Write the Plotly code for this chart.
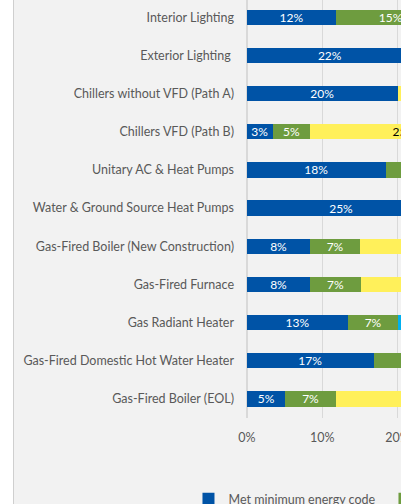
import plotly.graph_objects as go

# measure names, top to bottom
categories = [
    "Interior Lighting",
    "Exterior Lighting\u00a0",
    "Chillers without VFD (Path A)",
    "Chillers VFD (Path B)",
    "Unitary AC & Heat Pumps",
    "Water & Ground Source Heat Pumps",
    "Gas-Fired Boiler (New Construction)",
    "Gas-Fired Furnace",
    "Gas Radiant Heater",
    "Gas-Fired Domestic Hot Water Heater",
    "Gas-Fired Boiler (EOL)",
]

series_names = [
    "Met minimum energy code",
    "Exceeded code by 1-10%",
    "Exceeded code by 11-20%",
    "Exceeded code by more than 20%",
]

# share of projects (%) per group
met_code = [11.8, 22.0, 20.0, 3.4, 18.4, 25.0, 8.4, 8.4, 13.4, 16.8, 5.1]
exceed_low = [14.6, 0.0, 0.0, 5.0, 16.0, 10.0, 6.6, 6.7, 6.7, 15.0, 6.7]
exceed_mid = [40.0, 45.0, 50.0, 25.0, 33.0, 35.0, 45.0, 50.0, 0.0, 40.0, 48.0]
exceed_high = [33.6, 33.0, 30.0, 66.6, 32.6, 30.0, 40.0, 35.0, 79.9, 28.2, 40.2]

x_ticks = [0, 10, 20, 30, 40, 50, 60, 70, 80, 90, 100]

colors = ["#0053a6", "#6e9c3f", "#fff05a", "#00b0f0"]
text_colors = ["white", "white", "black", "white"]

W, H = 401, 504
L, B = 247, 86
PX_PER_PCT = 7.53
FONT = "Lato"

fig = go.Figure()
for name, vals, col, tcol in zip(series_names, [met_code, exceed_low, exceed_mid, exceed_high], colors, text_colors):
    fig.add_trace(go.Bar(
        y=categories, x=vals, name=name, orientation="h",
        marker=dict(color=col, line=dict(width=0)),
        text=[f"{round(v)}%" if v else "" for v in vals],
        textposition="inside", insidetextanchor="middle", constraintext="none",
        textfont=dict(family=FONT, size=12, color=tcol),
    ))

# white strip and border at the left edge of the chart box
fig.add_shape(type="rect", xref="paper", yref="paper", xsizemode="pixel", xanchor=0,
              x0=-L, x1=-L + 13, y0=-1, y1=2, fillcolor="white", line_width=0, layer="below")
fig.add_shape(type="line", xref="paper", yref="paper", xsizemode="pixel", xanchor=0,
              x0=-L + 13.5, x1=-L + 13.5, y0=-1, y1=2, line=dict(color="#cfcfcf", width=1), layer="below")

fig.update_layout(
    width=W, height=H,
    margin=dict(l=L, r=0, t=0, b=B, autoexpand=False),
    barmode="stack", bargap=0.6,
    paper_bgcolor="#f2f2f2", plot_bgcolor="#f2f2f2",
    font=dict(family=FONT, size=12.5, color="#595959"),
    legend=dict(orientation="h", x=-0.38, xanchor="left", y=-0.158, yanchor="top",
                entrywidth=151, font=dict(size=12.5, color="#595959"), traceorder="normal"),
)
fig.update_xaxes(range=[0, (W - L) / PX_PER_PCT], tickvals=x_ticks, ticktext=[f"{t}%" for t in x_ticks],
                 showgrid=True, gridcolor="#d9d9d9", zeroline=True, zerolinecolor="#d9d9d9",
                 showline=False, ticks="", ticklabelstandoff=10, ticklabeloverflow="allow")
fig.update_yaxes(range=[10.5, -0.45], showgrid=False, ticks="", showline=False, ticklabelstandoff=12)

fig.write_html("out.html", config={"displayModeBar": False},
               post_script="document.body.style.margin = '0';")
